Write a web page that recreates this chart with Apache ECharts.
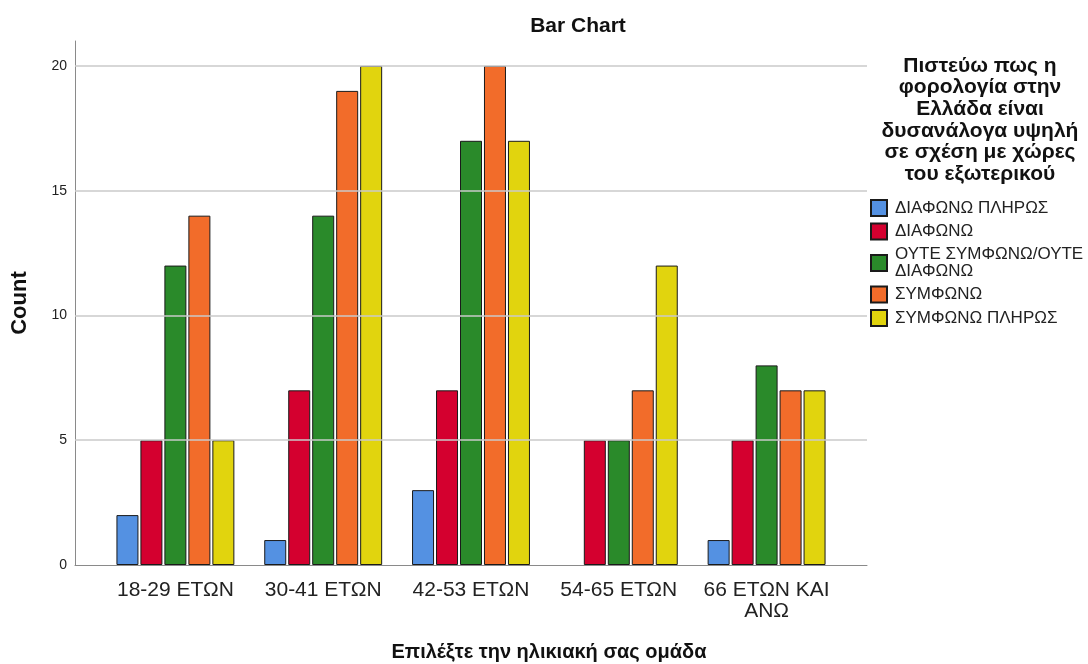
<!DOCTYPE html>
<html>
<head>
<meta charset="utf-8">
<script src="https://cdn.jsdelivr.net/npm/echarts@6/dist/echarts.min.js"></script>
<style>
  html, body { margin: 0; padding: 0; background: #fff; }
  #chart { width: 1088px; height: 664px; }
</style>
</head>
<body>
<div id="chart"></div>
<script>
// Age groups on the x axis
const ageGroups = ['18-29 ΕΤΩΝ', '30-41 ΕΤΩΝ', '42-53 ΕΤΩΝ', '54-65 ΕΤΩΝ', '66 ΕΤΩΝ ΚΑΙ ΑΝΩ'];

// Answer categories (legend order)
const answers = ['ΔΙΑΦΩΝΩ ΠΛΗΡΩΣ', 'ΔΙΑΦΩΝΩ', 'ΟΥΤΕ ΣΥΜΦΩΝΩ/ΟΥΤΕ ΔΙΑΦΩΝΩ', 'ΣΥΜΦΩΝΩ', 'ΣΥΜΦΩΝΩ ΠΛΗΡΩΣ'];

// Counts per answer, one value per age group
const disagreeFully = [2, 1, 3, 0, 1];
const disagree      = [5, 7, 7, 5, 5];
const neutral       = [12, 14, 17, 5, 8];
const agree         = [14, 19, 20, 7, 7];
const agreeFully    = [5, 20, 17, 12, 7];

// Y axis ticks
const yTicks = [5, 10, 15, 20];

const seriesValues = [disagreeFully, disagree, neutral, agree, agreeFully];
const colors = ['#5491e2', '#d4002f', '#2a8a2a', '#f26c2a', '#e1d40e'];

const FONT = "'Liberation Sans', Arial, Helvetica, sans-serif";
const PLOT = { top: 41, height: 524 };

// wrap long labels before their last word
const wrapLast = (text, maxLen) => (text.length > maxLen ? text.replace(/ (\S+)$/, '\n$1') : text);

const chart = echarts.init(document.getElementById('chart'));

const barSeries = answers.map((name, i) => ({
  name,
  type: 'bar',
  xAxisIndex: 1,
  yAxisIndex: 1,
  barWidth: 22,
  barGap: '9%',
  z: 3,
  // empty cells are left out, the slot stays reserved
  data: seriesValues[i].map(v => (v === 0 ? '-' : v)),
  itemStyle: { color: colors[i], borderColor: '#1a1a1a', borderWidth: 1 }
}));

chart.setOption({
  animation: false,
  backgroundColor: '#ffffff',
  textStyle: { fontFamily: FONT },
  title: [
    {
      text: 'Bar Chart',
      left: 573, top: 11, textAlign: 'center',
      textStyle: { fontFamily: FONT, fontSize: 21, fontWeight: 'bold', color: '#111' }
    },
    {
      text: 'Πιστεύω πως η\nφορολογία στην\nΕλλάδα είναι\nδυσανάλογα υψηλή\nσε σχέση με χώρες\nτου εξωτερικού',
      left: 975, top: 50, textAlign: 'center',
      textStyle: { fontFamily: FONT, fontSize: 21, fontWeight: 'bold', color: '#111', lineHeight: 21.7, align: 'center' }
    },
    {
      text: 'Επιλέξτε την ηλικιακή σας ομάδα',
      left: 544, top: 637, textAlign: 'center',
      textStyle: { fontFamily: FONT, fontSize: 20, fontWeight: 'bold', color: '#111' }
    }
  ],
  legend: {
    orient: 'vertical',
    left: 865, top: 194,
    itemWidth: 16, itemHeight: 16, itemGap: 5.5,
    icon: 'rect',
    data: answers,
    formatter: name => wrapLast(name, 20),
    textStyle: { fontFamily: FONT, fontSize: 17, lineHeight: 17, color: '#222', padding: [0, 0, 0, 3] }
  },
  grid: [
    { left: 75, top: PLOT.top, width: 792, height: PLOT.height },
    { left: 101.5, top: PLOT.top, width: 739, height: PLOT.height }
  ],
  xAxis: [
    {
      gridIndex: 0, type: 'value', min: 0, max: 1,
      axisLine: { show: true, lineStyle: { color: '#8a8a8a', width: 1 } },
      axisTick: { show: false }, axisLabel: { show: false }, splitLine: { show: false }
    },
    {
      gridIndex: 1, type: 'category', data: ageGroups,
      axisLine: { show: false }, axisTick: { show: false },
      axisLabel: {
        margin: 15, fontFamily: FONT, fontSize: 21, color: '#222', lineHeight: 21,
        interval: 0, formatter: v => wrapLast(v, 12)
      }
    }
  ],
  yAxis: [
    {
      gridIndex: 0, type: 'value', min: 0, max: 21, interval: 5,
      name: 'Count', nameLocation: 'middle', nameGap: 44, nameRotate: 90,
      nameTextStyle: { fontFamily: FONT, fontSize: 22, fontWeight: 'bold', color: '#111' },
      axisLine: { show: true, lineStyle: { color: '#8a8a8a', width: 1 } },
      axisTick: { show: false },
      axisLabel: { margin: 8, fontFamily: FONT, fontSize: 14, color: '#222', showMaxLabel: false },
      splitLine: { show: false }
    },
    {
      gridIndex: 1, type: 'value', min: 0, max: 21, show: false
    }
  ],
  series: [
    // horizontal reference lines across the full plot width
    {
      type: 'line', xAxisIndex: 0, yAxisIndex: 0, data: [], z: 1, silent: true,
      markLine: {
        silent: true, symbol: 'none', label: { show: false },
        lineStyle: { color: '#cacaca', width: 1.5, type: 'solid' },
        data: yTicks.map(v => ({ yAxis: v }))
      }
    },
    ...barSeries
  ]
});
</script>
</body>
</html>
